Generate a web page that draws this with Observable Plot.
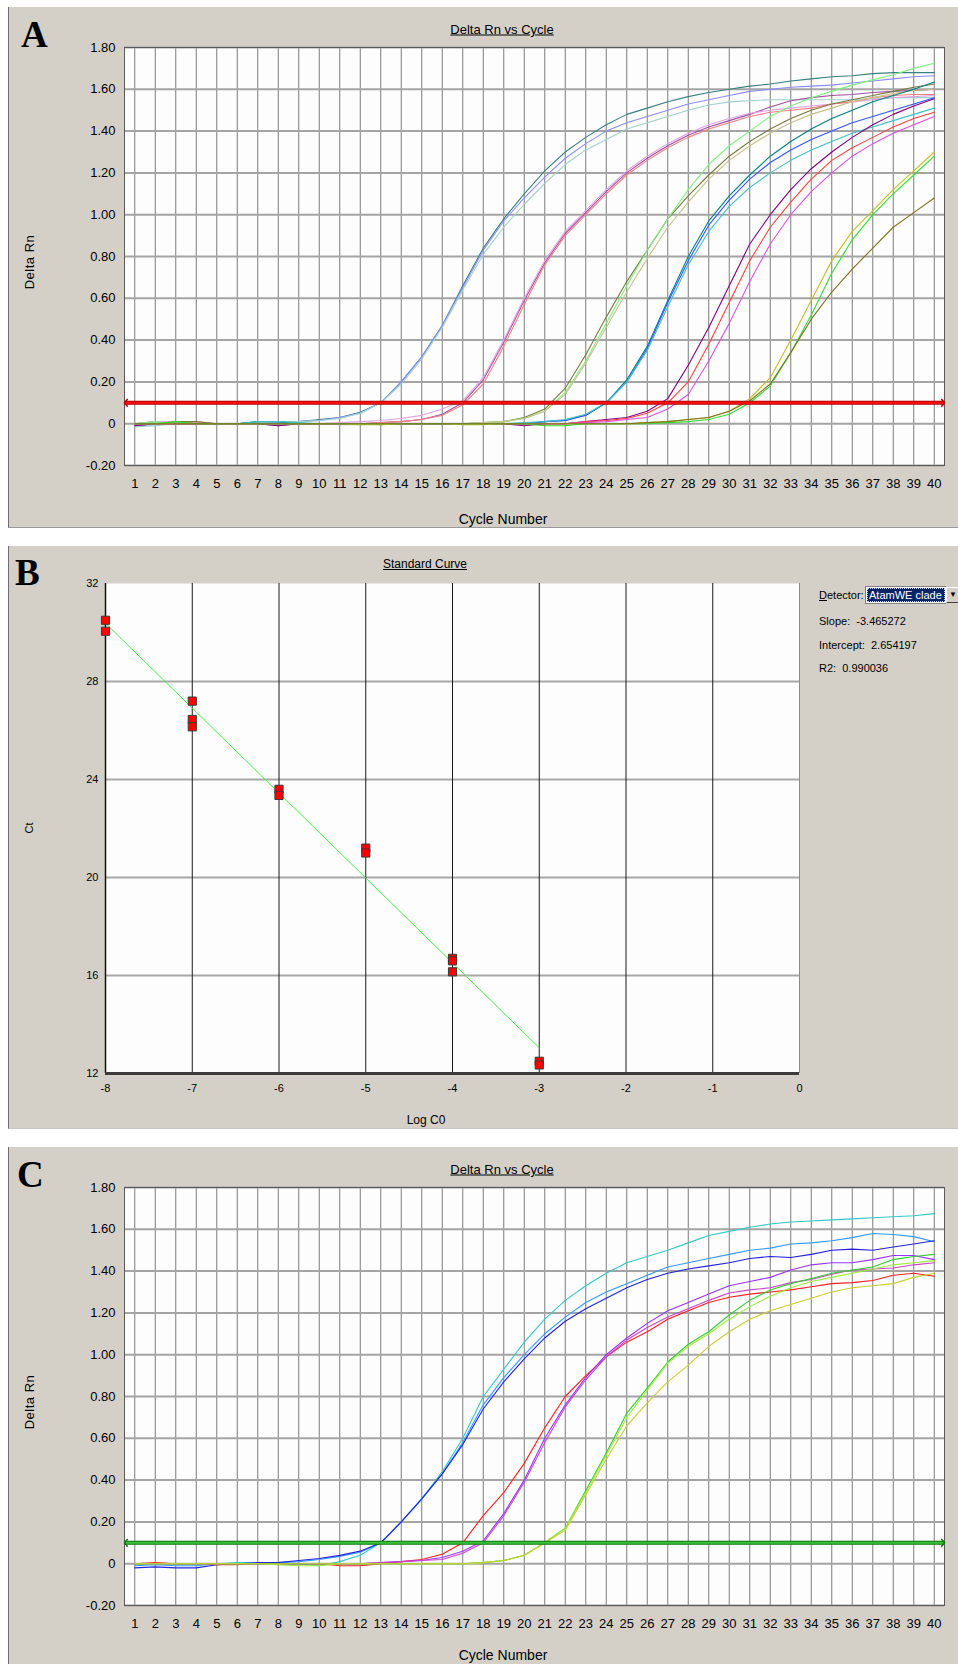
<!DOCTYPE html>
<html><head><meta charset="utf-8">
<script src="https://cdn.jsdelivr.net/npm/d3@7"></script>
<script src="https://cdn.jsdelivr.net/npm/@observablehq/plot@0.6"></script>
<style>
body{margin:0;background:#fff;}
#page{position:relative;width:958px;height:1664px;overflow:hidden;font-family:Arial,"Liberation Sans",sans-serif;color:#000;}
.panel{position:absolute;left:8px;width:950px;background:#d4d0c8;border-left:1px solid #6e6e6e;}
.t{position:absolute;white-space:nowrap;}
.big{position:absolute;font-family:"Liberation Serif","Times New Roman",serif;font-weight:bold;font-size:37px;line-height:37px;}
</style></head>
<body><div id="page"></div>
<script>
// ---------- shared categories ----------
const cycles = [1,2,3,4,5,6,7,8,9,10,11,12,13,14,15,16,17,18,19,20,21,22,23,24,25,26,27,28,29,30,31,32,33,34,35,36,37,38,39,40];
const deltaTicks = [-0.2,0,0.2,0.4,0.6,0.8,1.0,1.2,1.4,1.6,1.8];
const cycleDomain = [0.5, 40.5];

// ---------- Panel A: Delta Rn vs Cycle (standards) ----------
const aTeal13   = [0.00,0.01,0.01,0.00,0.00,0.00,0.01,0.01,0.01,0.02,0.03,0.055,0.10,0.20,0.32,0.47,0.66,0.84,0.98,1.10,1.21,1.30,1.37,1.43,1.48,1.51,1.54,1.565,1.585,1.60,1.615,1.625,1.64,1.65,1.66,1.665,1.675,1.68,1.68,1.68];
const aViolet13 = [-0.01,-0.005,0.00,0.00,0.00,0.00,0.00,0.005,0.01,0.015,0.03,0.05,0.10,0.20,0.32,0.47,0.65,0.83,0.97,1.08,1.18,1.27,1.34,1.40,1.44,1.47,1.50,1.53,1.55,1.57,1.59,1.60,1.61,1.615,1.62,1.63,1.64,1.65,1.66,1.665];
const aCyan13   = [-0.015,-0.01,0.00,0.00,-0.005,0.00,0.01,0.01,0.01,0.015,0.025,0.05,0.10,0.19,0.31,0.46,0.64,0.81,0.94,1.05,1.15,1.24,1.31,1.36,1.41,1.44,1.47,1.50,1.525,1.54,1.545,1.55,1.55,1.55,1.55,1.55,1.555,1.56,1.56,1.56];
const aPurple17 = [-0.01,0.00,0.00,0.00,0.00,0.00,0.00,-0.01,0.00,0.00,0.00,0.00,0.005,0.01,0.02,0.045,0.10,0.21,0.39,0.59,0.77,0.91,1.01,1.11,1.20,1.27,1.33,1.38,1.42,1.45,1.48,1.515,1.545,1.56,1.57,1.575,1.585,1.59,1.595,1.60];
const aPink17   = [0.00,0.01,0.01,0.00,0.00,0.00,0.00,0.00,0.00,0.00,0.005,0.01,0.015,0.025,0.04,0.07,0.11,0.22,0.40,0.60,0.78,0.92,1.02,1.12,1.21,1.28,1.34,1.39,1.43,1.46,1.485,1.50,1.51,1.52,1.53,1.54,1.55,1.56,1.565,1.57];
const aSalmon17 = [0.00,0.00,0.00,0.01,0.00,0.00,0.00,0.00,0.00,0.00,0.00,0.00,0.005,0.01,0.02,0.04,0.09,0.19,0.37,0.57,0.76,0.90,1.00,1.10,1.19,1.26,1.32,1.37,1.41,1.44,1.47,1.49,1.50,1.51,1.53,1.54,1.56,1.57,1.575,1.575];
const aOlive21  = [0.00,0.00,0.01,0.01,0.00,0.00,0.00,0.00,0.00,0.00,0.00,0.00,-0.005,0.00,0.00,0.00,0.00,0.005,0.01,0.03,0.07,0.17,0.33,0.51,0.68,0.83,0.98,1.09,1.19,1.28,1.35,1.41,1.46,1.50,1.53,1.55,1.57,1.59,1.61,1.625];
const aLime21   = [0.00,0.01,0.00,0.00,0.00,0.00,0.00,0.00,0.00,0.00,0.00,0.00,0.00,0.00,0.00,0.00,0.00,0.005,0.01,0.025,0.06,0.15,0.30,0.48,0.66,0.83,0.98,1.12,1.24,1.33,1.40,1.47,1.52,1.56,1.59,1.62,1.645,1.67,1.70,1.725];
const aTan21    = [0.00,0.00,0.00,0.00,0.00,0.00,0.00,0.00,0.00,0.00,-0.005,-0.005,0.00,0.00,0.00,0.00,0.00,0.005,0.01,0.025,0.06,0.14,0.29,0.46,0.63,0.79,0.94,1.06,1.17,1.26,1.33,1.39,1.44,1.48,1.51,1.54,1.56,1.58,1.595,1.60];
const aTeal24   = [0.00,0.00,0.00,0.00,0.00,0.00,0.01,0.01,0.00,0.00,0.00,0.00,0.00,0.00,0.00,0.00,0.00,0.00,0.00,0.00,0.01,0.015,0.04,0.10,0.21,0.37,0.59,0.80,0.97,1.09,1.19,1.28,1.35,1.41,1.46,1.50,1.54,1.57,1.60,1.635];
const aBlue24   = [0.00,0.00,0.00,0.00,0.00,0.00,0.00,0.00,0.00,0.00,0.00,0.00,0.00,0.00,0.00,0.00,0.00,0.00,0.00,0.00,0.01,0.015,0.04,0.10,0.20,0.36,0.58,0.78,0.95,1.07,1.17,1.25,1.31,1.36,1.40,1.44,1.47,1.50,1.53,1.56];
const aAqua24   = [0.00,0.00,0.00,0.00,0.00,0.00,0.01,0.01,0.005,0.00,0.00,0.00,0.00,0.00,0.00,0.00,0.00,0.00,0.00,0.005,0.01,0.02,0.045,0.10,0.20,0.35,0.56,0.76,0.92,1.04,1.13,1.20,1.26,1.31,1.35,1.39,1.42,1.45,1.48,1.51];
const aPlum27   = [-0.01,0.00,0.00,0.00,0.00,0.00,0.00,-0.01,0.00,0.00,0.00,0.00,0.00,0.00,0.00,0.00,0.00,0.00,0.00,-0.01,0.00,0.00,0.01,0.02,0.03,0.06,0.12,0.28,0.46,0.66,0.86,1.00,1.12,1.22,1.30,1.37,1.43,1.48,1.52,1.555];
const aRed27    = [0.00,0.00,0.00,0.00,0.00,0.00,0.00,0.00,0.00,0.00,0.00,0.00,0.00,0.00,0.00,0.00,0.00,0.00,0.00,0.00,0.00,0.00,0.01,0.015,0.025,0.05,0.10,0.20,0.38,0.58,0.78,0.94,1.06,1.17,1.26,1.32,1.37,1.42,1.46,1.49];
const aOrchid27 = [0.00,0.00,0.00,0.00,0.00,0.00,0.00,0.00,0.00,0.00,0.00,0.00,0.00,0.00,0.00,0.00,0.00,0.00,0.00,0.00,0.00,0.00,0.005,0.01,0.02,0.03,0.07,0.14,0.30,0.48,0.68,0.86,1.00,1.11,1.20,1.28,1.34,1.39,1.43,1.47];
const aYellow31 = [0.00,0.00,0.00,0.00,0.00,0.00,0.00,0.00,0.00,0.00,0.00,-0.005,-0.005,0.00,0.00,0.00,-0.005,-0.005,0.00,0.00,0.00,0.00,0.00,0.00,0.00,0.005,0.01,0.02,0.03,0.06,0.12,0.22,0.40,0.59,0.78,0.92,1.02,1.12,1.21,1.30];
const aGreen31  = [0.00,0.00,0.01,0.00,0.00,0.00,0.00,0.00,0.00,0.00,0.00,0.00,0.00,0.00,0.00,0.00,0.00,0.00,0.00,0.00,-0.01,-0.01,0.00,0.00,0.00,0.00,0.005,0.01,0.02,0.045,0.10,0.18,0.34,0.52,0.72,0.88,1.00,1.10,1.19,1.28];
const aBrown31  = [0.00,0.00,0.00,0.00,0.00,0.00,0.00,0.00,0.00,0.00,0.00,0.00,0.00,0.00,0.00,0.00,0.00,0.00,0.00,0.00,0.00,0.00,0.00,0.00,0.00,0.005,0.01,0.02,0.03,0.06,0.11,0.19,0.34,0.50,0.63,0.74,0.84,0.94,1.01,1.08];
const seriesA = [aTeal13,aViolet13,aCyan13,aPurple17,aPink17,aSalmon17,aOlive21,aLime21,aTan21,aTeal24,aBlue24,aAqua24,aPlum27,aRed27,aOrchid27,aYellow31,aGreen31,aBrown31];
const colorsA = ["#3a8080","#8c8cff","#9fd0cf","#a050a0","#e0a0e0","#f08080","#7a7a40","#80f080","#c8c08a","#008080","#3355ff","#40c0c8","#800080","#ff4040","#e050e0","#c0c020","#33dd33","#7f7020"];
const thresholdA = 0.1;

// ---------- Panel B: Standard Curve ----------
const logC0 = [-8,-8,-7,-7,-7,-6,-6,-5,-5,-4,-4,-4,-3,-3];
const ctVal = [30.5,30.05,27.2,26.45,26.15,23.6,23.35,21.2,21.0,16.7,16.6,16.15,12.5,12.35];
const fitLogC0 = [-8,-3];
const fitCt = [30.38,13.05];
const logTicks = [-8,-7,-6,-5,-4,-3,-2,-1,0];
const ctTicks = [12,16,20,24,28,32];
const statsB = ["Slope:  -3.465272","Intercept:  2.654197","R2:  0.990036"];
const detectorName = "AtamWE clade";

// ---------- Panel C: Delta Rn vs Cycle (samples) ----------
const cCyan    = [0.00,0.00,0.00,0.00,0.00,0.005,0.005,0.00,0.00,-0.01,0.01,0.04,0.10,0.20,0.31,0.44,0.60,0.80,0.93,1.06,1.17,1.26,1.33,1.39,1.44,1.47,1.50,1.535,1.57,1.59,1.61,1.625,1.635,1.64,1.645,1.65,1.655,1.66,1.665,1.675];
const cSky     = [-0.01,-0.005,-0.01,-0.01,0.00,0.00,0.005,0.005,0.01,0.02,0.035,0.055,0.10,0.20,0.31,0.43,0.58,0.76,0.89,1.00,1.10,1.18,1.25,1.30,1.34,1.38,1.42,1.44,1.46,1.48,1.50,1.51,1.53,1.535,1.545,1.56,1.58,1.575,1.565,1.54];
const cBlue    = [-0.02,-0.015,-0.02,-0.02,-0.005,0.00,0.005,0.005,0.015,0.025,0.04,0.06,0.10,0.20,0.31,0.43,0.57,0.74,0.87,0.98,1.08,1.16,1.22,1.27,1.32,1.36,1.39,1.41,1.425,1.44,1.46,1.47,1.465,1.48,1.50,1.505,1.50,1.515,1.53,1.545];
const cRed     = [0.00,0.005,0.00,0.00,-0.005,-0.005,0.00,0.00,0.00,0.00,-0.01,-0.01,0.00,0.01,0.02,0.045,0.10,0.23,0.34,0.48,0.65,0.80,0.90,0.99,1.06,1.11,1.17,1.21,1.25,1.275,1.29,1.30,1.31,1.325,1.34,1.345,1.355,1.38,1.39,1.375];
const cViolet  = [0.00,0.00,0.00,0.00,0.00,0.00,0.00,0.00,0.00,0.00,0.00,0.00,0.005,0.01,0.015,0.03,0.06,0.11,0.24,0.40,0.60,0.76,0.89,1.00,1.08,1.15,1.21,1.25,1.29,1.33,1.35,1.37,1.405,1.43,1.44,1.44,1.455,1.475,1.475,1.455];
const cMagenta = [0.00,0.00,0.00,0.00,0.00,0.00,0.00,0.00,0.00,0.00,0.00,0.00,0.005,0.01,0.015,0.02,0.05,0.10,0.23,0.39,0.58,0.75,0.88,0.99,1.07,1.13,1.18,1.22,1.26,1.295,1.31,1.32,1.345,1.36,1.385,1.405,1.41,1.415,1.43,1.44];
const cGreen   = [0.00,0.00,0.00,0.00,0.00,0.00,0.00,0.00,0.00,0.00,0.00,0.00,0.00,0.00,0.00,0.00,0.00,0.005,0.015,0.04,0.10,0.17,0.35,0.53,0.72,0.84,0.965,1.05,1.11,1.19,1.26,1.31,1.34,1.365,1.39,1.405,1.42,1.455,1.47,1.48];
const cLime    = [0.00,0.00,0.00,0.00,0.00,0.00,0.00,-0.005,-0.01,-0.01,0.00,0.00,0.00,0.00,0.00,0.00,0.00,0.005,0.015,0.04,0.10,0.17,0.34,0.52,0.70,0.83,0.96,1.04,1.10,1.17,1.23,1.28,1.32,1.35,1.37,1.39,1.41,1.43,1.44,1.45];
const cYellow  = [0.00,0.00,0.00,0.00,0.00,0.00,0.00,0.00,0.00,0.00,0.00,0.00,0.00,0.00,0.00,0.00,0.00,0.005,0.015,0.04,0.10,0.16,0.33,0.50,0.66,0.77,0.87,0.95,1.04,1.11,1.17,1.21,1.24,1.27,1.30,1.32,1.33,1.34,1.37,1.39];
const seriesC = [cCyan,cSky,cBlue,cRed,cViolet,cMagenta,cGreen,cLime,cYellow];
const colorsC = ["#33c8c8","#3399ff","#2222dd","#ff2020","#9933ff","#cc44cc","#33cc33","#99ee33","#cccc33"];
const thresholdC = 0.1;

// ---------- page helpers ----------
const page = document.getElementById("page");
function box(cls, css, html) {
  const d = document.createElement("div");
  d.className = cls; d.style.cssText = css; if (html != null) d.innerHTML = html;
  page.appendChild(d); return d;
}
function mount(svg, top) {
  svg.style.position = "absolute"; svg.style.left = "0px"; svg.style.top = top + "px";
  page.appendChild(svg);
}
const fmtDelta = d => Math.abs(d) < 1e-9 ? "0" : d.toFixed(2);
// open chevron symbol (tip at the anchor point, pointing right before rotation)
const chevron = {draw(ctx, size) { const s = Math.sqrt(size) / 2; ctx.moveTo(-s * 0.9, -s * 1.1); ctx.lineTo(0, 0); ctx.lineTo(-s * 0.9, s * 1.1); }};

function cyclePlot(series, colors, threshold, thrDark, thrLight, height) {
  const marks = [
    Plot.frame({fill: "#fdfdfd"}),
    Plot.ruleX(cycles, {stroke: "#7c7c7c", strokeWidth: 1}),
    Plot.ruleY(deltaTicks, {stroke: "#a4a4a4", strokeWidth: 2}),
    Plot.frame({stroke: "#5a5a5a", strokeWidth: 1}),
  ];
  series.forEach((vals, i) => {
    marks.push(Plot.line(cycles.map((c, j) => ({cycle: c, v: vals[j]})),
      {x: "cycle", y: "v", stroke: colors[i], strokeWidth: 1.1}));
  });
  const thr = [{x1: cycleDomain[0], x2: cycleDomain[1], y: threshold}];
  const ends = [{x: cycleDomain[0], y: threshold, rot: 180}, {x: cycleDomain[1], y: threshold, rot: 0}];
  marks.push(Plot.link(thr, {x1: "x1", x2: "x2", y1: "y", y2: "y", stroke: thrDark, strokeWidth: 4}));
  marks.push(Plot.link(thr, {x1: "x1", x2: "x2", y1: "y", y2: "y", stroke: thrLight, strokeWidth: 2}));
  marks.push(Plot.dot(ends, {x: "x", y: "y", rotate: "rot", symbol: chevron, r: 4, fill: "none", stroke: thrDark, strokeWidth: 1.5}));
  marks.push(Plot.axisX(cycles, {tickSize: 0, tickPadding: 13, label: null, fontSize: 13}));
  marks.push(Plot.axisY(deltaTicks, {tickSize: 0, tickPadding: 9, label: null, tickFormat: fmtDelta, fontSize: 13}));
  return Plot.plot({
    width: 958, height, marginLeft: 124, marginRight: 14, marginTop: 40, marginBottom: height - 458,
    x: {domain: cycleDomain, label: null}, y: {domain: [-0.2, 1.8], label: null},
    style: {background: "transparent", fontFamily: "Arial, 'Liberation Sans', sans-serif", fontSize: "13px", color: "#000", overflow: "visible"},
    marks
  });
}

// ---------- Panel A ----------
box("panel", "top:7px;height:520px;border-bottom:1px solid #9a9a9a;");
mount(cyclePlot(seriesA, colorsA, thresholdA, "#b00000", "#ff1010", 520), 7);
box("big", "left:21px;top:16px;", "A");
box("t", "left:502px;top:29px;transform:translate(-50%,-50%);font-size:13px;text-decoration:underline;", "Delta Rn vs Cycle");
box("t", "left:503px;top:519px;transform:translate(-50%,-50%);font-size:14px;", "Cycle Number");
box("t", "left:29px;top:262px;transform:translate(-50%,-50%) rotate(-90deg);font-size:13px;letter-spacing:0.5px;", "Delta Rn");

// ---------- Panel B ----------
box("panel", "top:546px;height:582px;border-bottom:1px solid #c8c8c8;");
const ptsB = logC0.map((x, i) => ({x, y: ctVal[i]}));
const fitB = fitLogC0.map((x, i) => ({x, y: fitCt[i]}));
const plotB = Plot.plot({
  width: 958, height: 582, marginLeft: 105, marginRight: 159, marginTop: 37, marginBottom: 55,
  x: {domain: [-8, 0], label: null}, y: {domain: [12, 32], label: null},
  style: {background: "transparent", fontFamily: "Arial, 'Liberation Sans', sans-serif", fontSize: "11px", color: "#000", overflow: "visible"},
  marks: [
    Plot.frame({fill: "#fdfdfd"}),
    Plot.ruleY(ctTicks.slice(1, -1), {stroke: "#a8a8a8", strokeWidth: 2}),
    Plot.ruleX(logTicks.slice(1, -1), {stroke: "#1a1a1a", strokeWidth: 1}),
    Plot.ruleX(logTicks.slice(-1), {stroke: "#8a8a8a", strokeWidth: 1}),
    Plot.ruleX(logTicks.slice(0, 1), {stroke: "#111", strokeWidth: 1.5}),
    Plot.ruleY(ctTicks.slice(0, 1), {stroke: "#3c3c3c", strokeWidth: 3}),
    Plot.line(fitB, {x: "x", y: "y", stroke: "#44ee44", strokeWidth: 1}),
    Plot.dot(ptsB, {x: "x", y: "y", symbol: "square", r: 4.6, fill: "#ff0000", stroke: "#3a3a3a", strokeWidth: 1}),
    Plot.axisX(logTicks, {tickSize: 0, tickPadding: 11, label: null, tickFormat: d => String(d), fontSize: 11}),
    Plot.axisY(ctTicks, {tickSize: 0, tickPadding: 7, label: null, tickFormat: d => String(d), fontSize: 11})
  ]
});
mount(plotB, 546);
box("big", "left:15px;top:554px;", "B");
box("t", "left:425px;top:564px;transform:translate(-50%,-50%);font-size:12px;text-decoration:underline;", "Standard Curve");
box("t", "left:426px;top:1120px;transform:translate(-50%,-50%);font-size:12px;", "Log C0");
box("t", "left:29px;top:828px;transform:translate(-50%,-50%) rotate(-90deg);font-size:11px;", "Ct");
box("t", "left:819px;top:595px;transform:translate(0,-50%);font-size:11px;", "<u>D</u>etector:");
box("t", "left:865px;top:586px;width:81px;height:18px;box-sizing:border-box;border:1px solid #808080;border-right:none;background:#fff;");
box("t", "left:867px;top:588px;width:78px;height:14px;box-sizing:border-box;background:#0a246a;color:#fff;font-size:11px;line-height:14px;padding-left:2px;outline:1px dotted #c8c8ff;outline-offset:-1px;", detectorName);
box("t", "left:946px;top:587px;width:14px;height:16px;box-sizing:border-box;background:#d4d0c8;border:1px solid #fff;border-right-color:#404040;border-bottom-color:#404040;font-size:8px;line-height:14px;text-align:center;", "&#9660;");
statsB.forEach((s, i) => box("t", `left:819px;top:${621 + i * 23.5}px;transform:translate(0,-50%);font-size:11px;white-space:pre;`, s));

// ---------- Panel C ----------
box("panel", "top:1147px;height:530px;");
mount(cyclePlot(seriesC, colorsC, thresholdC, "#0a7a0a", "#3cc03c", 517), 1147);
box("big", "left:17px;top:1156px;", "C");
box("t", "left:502px;top:1169px;transform:translate(-50%,-50%);font-size:13px;text-decoration:underline;", "Delta Rn vs Cycle");
box("t", "left:503px;top:1655px;transform:translate(-50%,-50%);font-size:14px;line-height:15px;", "Cycle Number");
box("t", "left:29px;top:1402px;transform:translate(-50%,-50%) rotate(-90deg);font-size:13px;letter-spacing:0.5px;", "Delta Rn");
</script>
</body></html>
